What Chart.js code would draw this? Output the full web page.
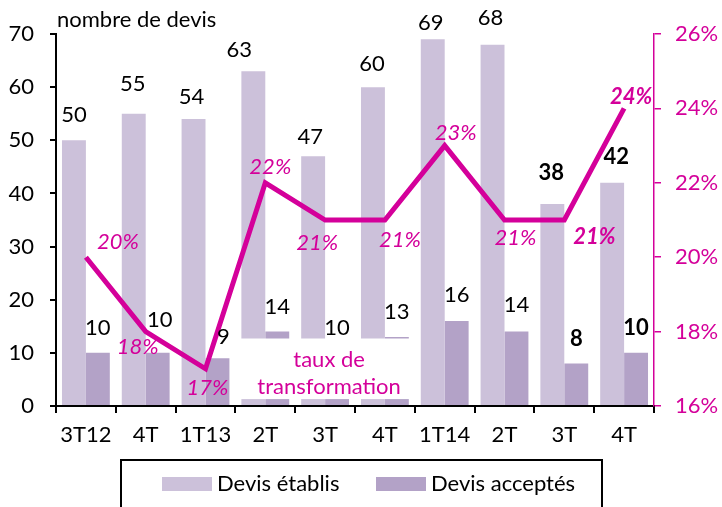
<!DOCTYPE html>
<html>
<head>
<meta charset="utf-8">
<script src="https://cdn.jsdelivr.net/npm/chart.js@4"></script>
<style>
  html, body { margin: 0; padding: 0; background: #fff; }
  #wrap { width: 722px; height: 507px; }
</style>
</head>
<body>
<div id="wrap"><canvas id="devisChart" width="722" height="507"></canvas></div>
<script>
// Data
const quarters = ["3T12", "4T", "1T13", "2T", "3T", "4T", "1T14", "2T", "3T", "4T"];
const devisEtablis = [50, 55, 54, 63, 47, 60, 69, 68, 38, 42];
const devisAcceptes = [10, 10, 9, 14, 10, 13, 16, 14, 8, 10];
const tauxTransformation = [20, 18, 17, 22, 21, 21, 23, 21, 21, 24];
const leftTicks = [0, 10, 20, 30, 40, 50, 60, 70];
const rightTicks = [16, 18, 20, 22, 24, 26];

const MAGENTA = "#D4009A";
const FONT = "Lato, 'Open Sans', sans-serif";
const FS = 22;

// label nudges (dx, dy) relative to bar top / line point
const etablisNudges = [[0, -25], [-1, -30], [-2, -22], [-14, -21], [-3, -19], [-1, -23], [-2, -16], [-2, -27], [-1, -31], [4, -26]];
const acceptesNudges = [[0, -25], [2, -33], [6, -21], [0, -25], [0, -25], [0, -25], [0, -26], [0, -27], [0, -25], [0, -25]];
const pctNudges = [[32, -15], [-8, 15], [2, 19], [5, -16], [-8, 23], [15, 20], [11, -13], [11, 18], [30, 17], [7, -11]];

const labelsPlugin = {
  id: "labelsPlugin",
  afterDatasetsDraw(chart) {
    const ctx = chart.ctx;
    const x = chart.scales.x;
    const y = chart.scales.y;
    ctx.save();

    // white box behind "taux de transformation"
    const half = (x.getPixelForValue(1) - x.getPixelForValue(0)) / 2;
    const bx1 = x.getPixelForValue(3) - half - 2;
    const bx2 = x.getPixelForValue(5) + half;
    const by1 = y.getPixelForValue(12.7);
    const by2 = y.getPixelForValue(1.3);
    ctx.fillStyle = "#fff";
    ctx.fillRect(bx1, by1, bx2 - bx1, by2 - by1);
    ctx.fillStyle = MAGENTA;
    ctx.font = FS + "px " + FONT;
    ctx.textAlign = "center";
    ctx.textBaseline = "middle";
    const cx = (bx1 + bx2) / 2 + 5;
    ctx.fillText("taux de", cx, by1 + 21);
    ctx.fillText("transformation", cx, by1 + 48);

    // bar value labels
    ctx.fillStyle = "#000";
    const nudges = [etablisNudges, acceptesNudges];
    [0, 1].forEach(di => {
      const ds = chart.data.datasets[di];
      chart.getDatasetMeta(di).data.forEach((bar, i) => {
        ctx.font = (i >= 8 ? "bold " : "") + FS + "px " + FONT;
        const n = nudges[di][i];
        ctx.fillText(ds.data[i], bar.x + n[0], bar.y + n[1]);
      });
    });

    // percentage labels
    ctx.fillStyle = MAGENTA;
    chart.getDatasetMeta(2).data.forEach((pt, i) => {
      ctx.font = "italic " + (i >= 8 ? "bold " : "") + FS + "px " + FONT;
      const n = pctNudges[i];
      ctx.fillText(tauxTransformation[i] + "%", pt.x + n[0], pt.y + n[1]);
    });
    ctx.restore();
  },
  afterDraw(chart) {
    const ctx = chart.ctx;
    ctx.save();
    ctx.fillStyle = "#000";
    ctx.font = FS + "px " + FONT;
    ctx.textAlign = "left";
    ctx.textBaseline = "middle";
    ctx.fillText("nombre de devis", chart.chartArea.left + 1, 20);

    // legend
    ctx.strokeStyle = "#000";
    ctx.lineWidth = 2;
    ctx.strokeRect(121, 460, 481, 60);
    const items = [chart.data.datasets[0], chart.data.datasets[1]];
    const starts = [162, 376];
    items.forEach((ds, k) => {
      ctx.fillStyle = ds.backgroundColor;
      ctx.fillRect(starts[k], 477, 50, 14);
      ctx.fillStyle = "#000";
      ctx.fillText(ds.label, starts[k] + 55, 484);
    });
    ctx.restore();
  }
};

const ctx = document.getElementById("devisChart").getContext("2d");
new Chart(ctx, {
  type: "bar",
  data: {
    labels: quarters,
    datasets: [
      {
        label: "Devis établis",
        data: devisEtablis,
        backgroundColor: "#CCC1DA",
        yAxisID: "y",
        order: 2,
        categoryPercentage: 0.8,
        barPercentage: 1.0
      },
      {
        label: "Devis acceptés",
        data: devisAcceptes,
        backgroundColor: "#B3A2C7",
        yAxisID: "y",
        order: 3,
        categoryPercentage: 0.8,
        barPercentage: 1.0
      },
      {
        type: "line",
        label: "taux de transformation",
        data: tauxTransformation,
        borderColor: MAGENTA,
        borderWidth: 5,
        pointRadius: 0,
        tension: 0,
        fill: false,
        yAxisID: "y2",
        order: 1
      }
    ]
  },
  options: {
    responsive: false,
    animation: false,
    layout: { padding: { top: 34, left: 0, right: 0, bottom: 0 } },
    plugins: {
      legend: { display: false },
      tooltip: { enabled: false }
    },
    scales: {
      x: {
        grid: { offset: true, drawOnChartArea: false, tickLength: 7, color: "#000", lineWidth: 2 },
        border: { color: "#000", width: 2 },
        ticks: { color: "#000", font: { family: FONT, size: FS }, padding: 9, maxRotation: 0 },
        afterFit(scale) { scale.height = 101; }
      },
      y: {
        position: "left",
        min: leftTicks[0],
        max: leftTicks[leftTicks.length - 1],
        grid: { drawOnChartArea: false, tickLength: 6, color: "#000", lineWidth: 2 },
        border: { color: "#000", width: 2 },
        afterBuildTicks(scale) { scale.ticks = leftTicks.map(v => ({ value: v })); },
        ticks: { color: "#000", font: { family: FONT, size: FS }, padding: 16 },
        afterFit(scale) { scale.width = 56; }
      },
      y2: {
        position: "right",
        min: rightTicks[0],
        max: rightTicks[rightTicks.length - 1],
        grid: { drawOnChartArea: false, tickLength: 7, color: MAGENTA, lineWidth: 1.5 },
        border: { color: MAGENTA, width: 1.5 },
        afterBuildTicks(scale) { scale.ticks = rightTicks.map(v => ({ value: v })); },
        ticks: { color: MAGENTA, font: { family: FONT, size: FS }, padding: 14, callback: v => v + "%" },
        afterFit(scale) { scale.width = 68; }
      }
    }
  },
  plugins: [labelsPlugin]
});
</script>
</body>
</html>
